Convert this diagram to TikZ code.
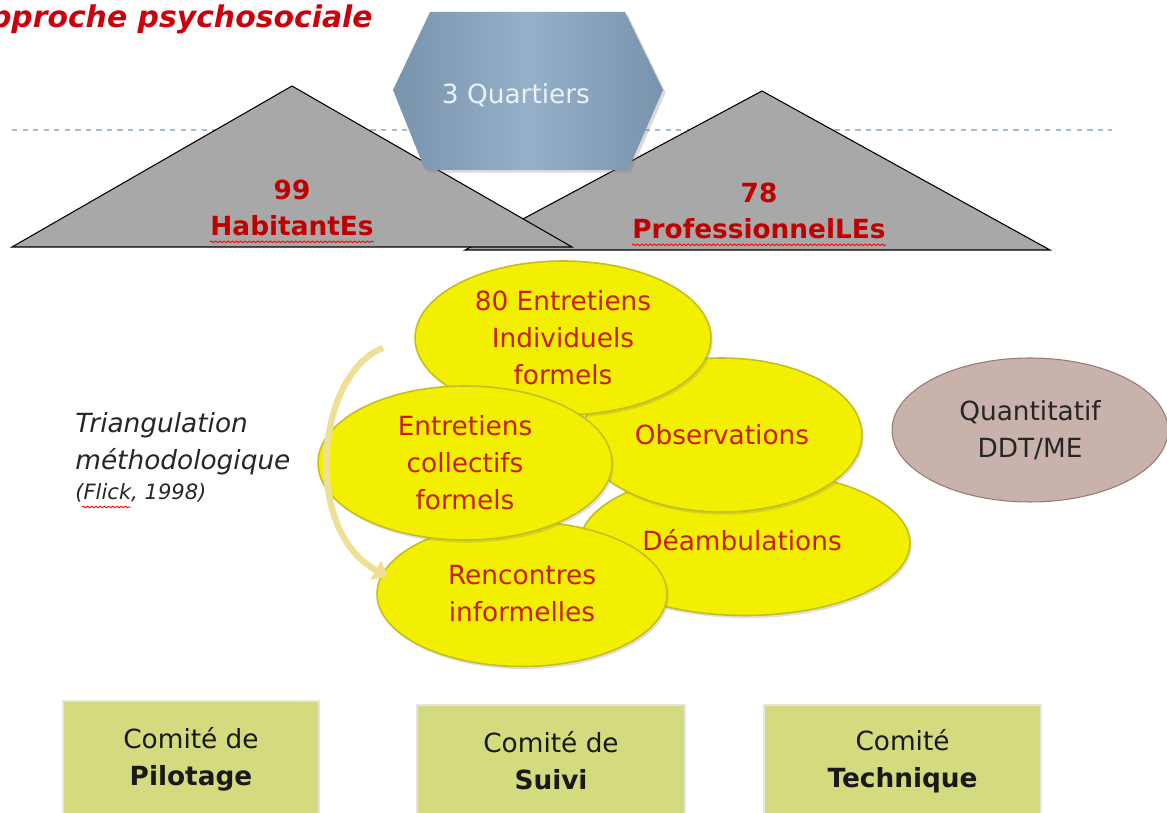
\documentclass[tikz,border=0pt]{standalone}
\usepackage{fontspec}
\setmainfont{DejaVu Sans}
\usetikzlibrary{shapes.geometric, arrows.meta, decorations.pathmorphing, shadows, calc}
\definecolor{titlered}{RGB}{204,0,10}
\definecolor{labelred}{RGB}{192,0,0}
\definecolor{ovalred}{RGB}{200,30,0}
\definecolor{ovalfill}{RGB}{242,240,0}
\definecolor{ovaldraw}{RGB}{196,190,30}
\definecolor{trifill}{RGB}{168,168,168}
\definecolor{hexdark}{RGB}{122,147,172}
\definecolor{hexlight}{RGB}{150,176,202}
\definecolor{quantfill}{RGB}{201,178,172}
\definecolor{quantdraw}{RGB}{150,122,116}
\definecolor{comfill}{RGB}{212,218,126}
\definecolor{arrowfill}{RGB}{238,224,150}
\definecolor{dashblue}{RGB}{165,188,212}
\tikzset{
  align=center,
  txt/.style={inner sep=0pt, font=\fontsize{15}{21}\selectfont},
  trilabel/.style={txt, font=\fontsize{15}{21}\selectfont\bfseries, text=labelred},
  tri/.style={draw=black, fill=trifill, line width=0.6pt},
  hexa/.style={draw=none, left color=hexdark, right color=hexdark, middle color=hexlight, drop shadow={opacity=0.3, shadow xshift=1.5pt, shadow yshift=-1.5pt}},
  oval/.style={ellipse, draw=ovaldraw, fill=ovalfill, line width=0.9pt, inner sep=0pt, text=ovalred, font=\fontsize{15}{21}\selectfont, drop shadow={opacity=0.25, shadow xshift=1pt, shadow yshift=-1.5pt}},
  quant/.style={ellipse, draw=quantdraw, fill=quantfill, line width=0.6pt, inner sep=0pt, text=black!85, font=\fontsize{15}{21}\selectfont},
  comite/.style={draw=black!10, line width=1.2pt, fill=comfill, minimum width=#1, inner sep=0pt},
  spell/.style={decorate, decoration={snake, amplitude=0.45pt, segment length=2.4pt}, red, line width=0.5pt},
  growarrow/.style={arrowfill, line width=3.6pt, -{Triangle[length=8pt, width=12pt]}}
}

\begin{document}
\begin{tikzpicture}[x=0.02cm, y=-0.02cm]
  \useasboundingbox (0,0) rectangle (1167,813);
  \clip (0,0) rectangle (1167,813);

  \node[txt, anchor=base east, font=\fontsize{17}{20}\selectfont\bfseries\itshape, text=titlered] (title) at (373,28) {Approche psychosociale};

  \draw[dashblue, dashed, line width=0.9pt] (12,130) -- (1112,130);

  \draw[tri] (465,250) -- (762,91) -- (1050,250) -- cycle;
  \draw[tri] (12,247) -- (292,86) -- (572,247) -- cycle;

  \node[trilabel] (n99) at (292,190) {99};
  \node[trilabel] (hab) at (292,226) {HabitantEs};
  \node[trilabel] (n78) at (759,193) {78};
  \node[trilabel] (pro) at (759,229) {ProfessionnelLEs};
  \draw[spell] ($(hab.base west)+(0,6)$) -- ($(hab.base east)+(0,6)$);
  \draw[spell] ($(pro.base west)+(0,6)$) -- ($(pro.base east)+(0,6)$);

  \path[hexa] (430,12) -- (625,12) -- (663,90) -- (628,170) -- (425,170) -- (393,90) -- cycle;
  \node[txt, text={rgb,255:red,235;green,241;blue,247}] (quartiers) at (516,95) {3 Quartiers};

  \node[oval, minimum width=6.6cm, minimum height=2.9cm] (deamb) at (745,543) {};
  \node[oval, minimum width=5.6cm, minimum height=3.08cm] (obs) at (722,435) {Observations};
  \node[oval, minimum width=5.92cm, minimum height=3.08cm] (indiv) at (563,338) {80 Entretiens\\Individuels\\formels};
  \node[txt, text=ovalred] (deambtxt) at (742,540) {Déambulations};
  \node[oval, minimum width=5.8cm, minimum height=2.9cm] (renc) at (522,594) {Rencontres\\informelles};
  \node[oval, minimum width=5.88cm, minimum height=3.08cm] (coll) at (465,463) {Entretiens\\collectifs\\formels};

  \node[quant, minimum width=5.52cm, minimum height=2.88cm] (quanti) at (1030,430) {Quantitatif\\DDT/ME};

  \coordinate (arrstart) at (383,348);
  \coordinate (arrend) at (388,577);
  \draw[growarrow] (arrstart) .. controls (318,372) and (300,528) .. (arrend);

  \node[txt, anchor=base west, align=left, font=\fontsize{15}{21.5}\selectfont\itshape, text=black!85] (triang) at (75,470) {Triangulation\\méthodologique};
  \node[txt, anchor=base west, font=\fontsize{12}{14}\selectfont\itshape, text=black!85] (flick) at (75,500) {(Flick, 1998)};
  \draw[spell] ($(flick.base west)+(7,7)$) -- ($(flick.base west)+(56,7)$);

  \node[comite=5.12cm, minimum height=2.32cm, anchor=north west] (pilot) at (62,700) {};
  \node[comite=5.36cm, minimum height=2.24cm, anchor=north west] (suivi) at (416,704) {};
  \node[comite=5.54cm, minimum height=2.24cm, anchor=north west] (techn) at (763,704) {};
  \node[txt, text=black!90] (pilottxt) at (pilot.center) {Comité de\\\textbf{Pilotage}};
  \node[txt, text=black!90] (suivitxt) at (suivi.center) {Comité de\\\textbf{Suivi}};
  \node[txt, text=black!90] (techntxt) at (techn.center) {Comité\\\textbf{Technique}};
\end{tikzpicture}
\end{document}
